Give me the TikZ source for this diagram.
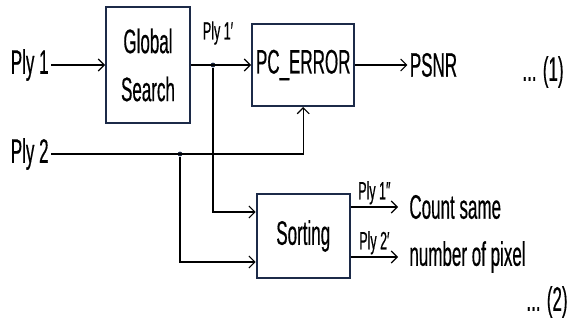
\documentclass[tikz,border=0pt]{standalone}
\usepackage{fontspec}
\setmainfont{Liberation Sans}[FakeStretch=0.5,FakeBold=0.4]
\usetikzlibrary{arrows.meta,positioning}
\definecolor{navy}{HTML}{1C2A48}

\begin{document}
\begin{tikzpicture}[x=0.5pt,y=-0.5pt,>={Straight Barb[length=3pt,width=6pt]},
blk/.style={draw=navy,line width=1pt,align=center,inner sep=2pt,font=\fontsize{17}{24}\selectfont},
txt/.style={inner sep=1pt,font=\fontsize{17}{20}\selectfont},
tag/.style={inner sep=1pt,font=\fontsize{12.5}{14}\selectfont},
dot/.style={circle,fill=navy,inner sep=0pt,minimum size=2.4pt},
wire/.style={line width=0.55pt}]
\useasboundingbox (0,0) rectangle (577,321);
\node[blk,minimum width=42pt,minimum height=58pt] (search) at (148,65) {Global\\Search};
\node[blk,minimum width=47pt,minimum height=41pt,right=30pt of search] (pcerr) {PC\_ERROR};
\node[blk,minimum width=46.5pt,minimum height=42pt,below=43pt of pcerr] (sort) {Sorting};
\node[txt,left=27pt of search] (ply1) {Ply 1};
\node[txt,anchor=east] (ply2) at (51,154) {Ply 2};
\node[txt,right=26pt of pcerr] (psnr) {PSNR};
\node[txt,anchor=west] (cnt) at (407,207) {Count same};
\node[txt,anchor=west] (npix) at (407,257) {number of pixel};
\node[txt,anchor=east] (eq1) at (566,72) {... (1)};
\node[txt,anchor=east] (eq2) at (570,302) {... (2)};
\node[tag] (p1a) at (218,33) {Ply 1′};
\node[dot] (j1) at (213,65) {};
\node[dot] (j2) at (180,154) {};
\draw[wire,->] (ply1) -- (search);
\draw[wire,->] (search) -- (pcerr);
\draw[wire,->] (pcerr) -- (psnr);
\draw[wire,->] (ply2) -| (pcerr.south);
\draw[wire,->] (j1) |- ([yshift=12pt]sort.west);
\draw[wire,->] (j2) |- ([yshift=-13pt]sort.west);
\draw[wire,->] (sort.east |- cnt.west) -- ([xshift=-4.5pt]cnt.west) node[tag,midway,above] {Ply 1″};
\draw[wire,->] (sort.east |- npix.west) -- ([xshift=-4.5pt]npix.west) node[tag,midway,above] {Ply 2′};
\end{tikzpicture}
\end{document}
